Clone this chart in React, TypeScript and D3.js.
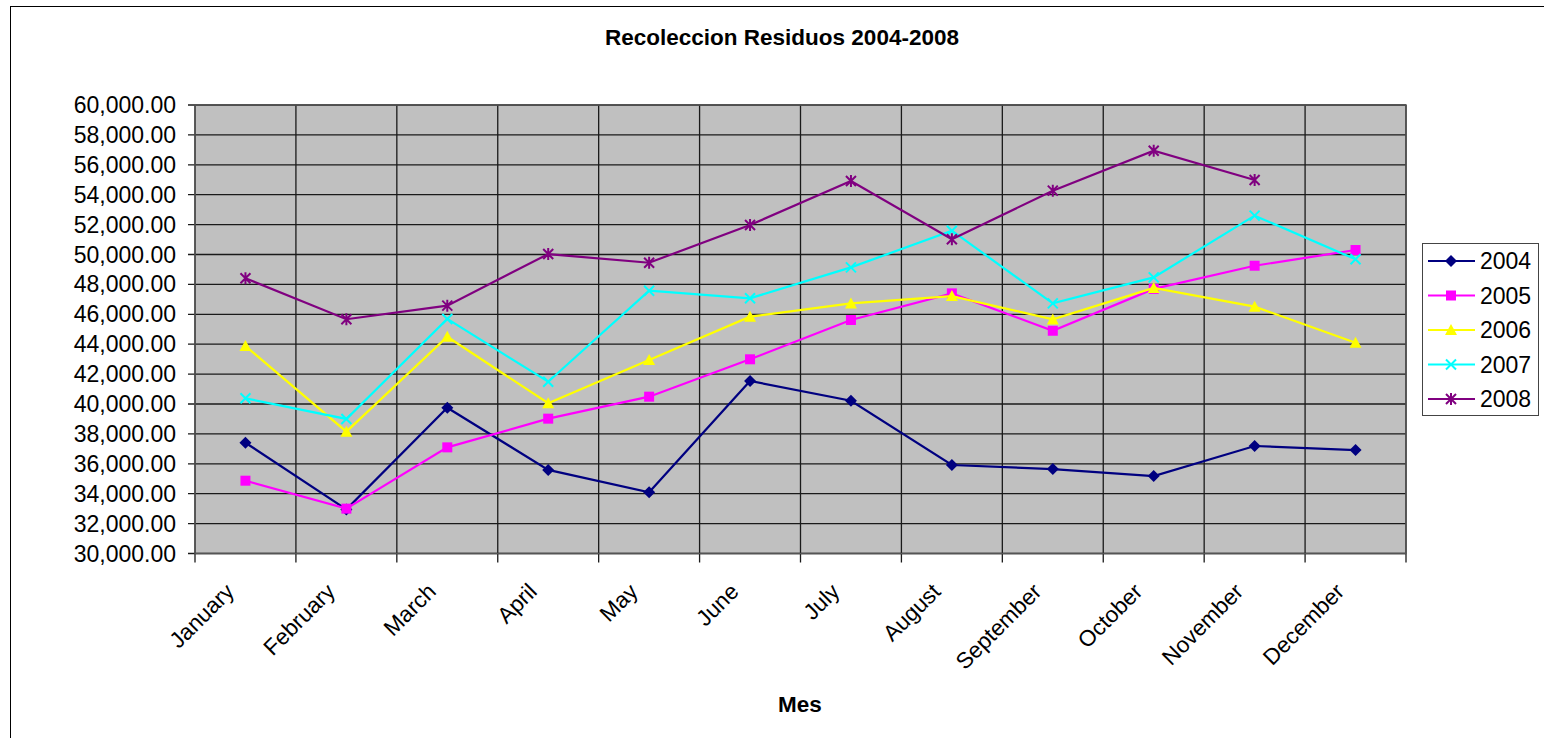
import React from "react";
import * as d3 from "d3";

// chart data
const months = ["January", "February", "March", "April", "May", "June", "July", "August", "September", "October", "November", "December"];
const years = ["2004", "2005", "2006", "2007", "2008"];

const s2004 = [37410, 32950, 39750, 35590, 34090, 41540, 40220, 35920, 35650, 35180, 37190, 36920];
const s2005 = [34870, 33000, 37100, 39020, 40490, 42990, 45620, 47400, 44900, 47700, 49250, 50300];
const s2006 = [43880, 38150, 44500, 40050, 42940, 45840, 46730, 47220, 45660, 47760, 46510, 44100];
const s2007 = [40380, 39000, 45690, 41490, 47580, 47070, 49140, 51590, 46730, 48470, 52600, 49680];
const s2008 = [48410, 45670, 46580, 50030, 49450, 51970, 54920, 51020, 54270, 56940, 54980, null];

const yTicks = d3.range(30000, 60001, 2000);

const colors = ["#000080", "#FF00FF", "#FFFF00", "#00FFFF", "#800080"];
const shapes = ["diamond", "square", "triangle", "x", "star"];

const size = {
  width: 1544,
  height: 738,
  left: 195,
  right: 1406,
  top: 105,
  bottom: 553.5,
  font: "'Liberation Sans', Arial, sans-serif"
};

const series = [s2004, s2005, s2006, s2007, s2008];

const Marker = ({ shape, x, y, color }: { shape: string; x: number; y: number; color: string }) => {
  const r = 5;
  if (shape === "diamond") {
    return <path d={`M${x},${y - r - 1}L${x + r + 1},${y}L${x},${y + r + 1}L${x - r - 1},${y}Z`} fill={color} />;
  }
  if (shape === "square") {
    return <rect x={x - r} y={y - r} width={r * 2} height={r * 2} fill={color} />;
  }
  if (shape === "triangle") {
    return <path d={`M${x},${y - r - 1}L${x + r + 1},${y + r}L${x - r - 1},${y + r}Z`} fill={color} />;
  }
  if (shape === "x") {
    return (
      <path d={`M${x - r},${y - r}L${x + r},${y + r}M${x + r},${y - r}L${x - r},${y + r}`} stroke={color} strokeWidth={2} fill="none" />
    );
  }
  return (
    <path
      d={`M${x - r},${y - r}L${x + r},${y + r}M${x + r},${y - r}L${x - r},${y + r}M${x},${y - r - 1}L${x},${y + r + 1}`}
      stroke={color}
      strokeWidth={2}
      fill="none"
    />
  );
};

const App = () => {
  const x = d3.scaleBand<string>().domain(months).range([size.left, size.right]);
  const y = d3.scaleLinear().domain([30000, 60000]).range([size.bottom, size.top]);
  const fmt = d3.format(",.2f");
  const cx = (m: string) => (x(m) as number) + x.bandwidth() / 2;

  const line = d3
    .line<number | null>()
    .defined((d) => d !== null)
    .x((d, i) => cx(months[i]))
    .y((d) => y(d as number));

  const boundaries = months.map((m) => x(m) as number).concat([size.right]);

  return (
    <svg
      width={size.width}
      height={size.height}
      style={{ position: "absolute", left: 0, top: 0, background: "#fff" }}
      fontFamily={size.font}
    >
      {/* outer chart frame */}
      <rect x={10.5} y={6.5} width={1545} height={745} fill="#fff" stroke="#000" strokeWidth={1} />

      <text x={782} y={45} textAnchor="middle" fontSize={22.5} fontWeight="bold">
        Recoleccion Residuos 2004-2008
      </text>

      {/* plot area */}
      <rect x={size.left} y={size.top} width={size.right - size.left} height={size.bottom - size.top} fill="#C0C0C0" />

      {yTicks.map((t) => (
        <g key={"y" + t}>
          <line x1={size.left - 7} x2={size.right} y1={y(t)} y2={y(t)} stroke="#1a1a1a" strokeWidth={1.3} />
          <text x={176} y={y(t) + 8} textAnchor="end" fontSize={23}>
            {fmt(t)}
          </text>
        </g>
      ))}

      {boundaries.map((b, i) => (
        <line key={"v" + i} x1={b} x2={b} y1={size.top} y2={size.bottom + 9} stroke="#1a1a1a" strokeWidth={1.3} />
      ))}

      <rect
        x={size.left}
        y={size.top}
        width={size.right - size.left}
        height={size.bottom - size.top}
        fill="none"
        stroke="#555"
        strokeWidth={1.5}
      />

      {months.map((m) => (
        <text
          key={m}
          transform={`translate(${cx(m) - 10},${593}) rotate(-45)`}
          textAnchor="end"
          fontSize={22.5}
        >
          {m}
        </text>
      ))}

      <text x={800} y={712} textAnchor="middle" fontSize={22.5} fontWeight="bold">
        Mes
      </text>

      {/* series */}
      {series.map((s, k) => (
        <g key={years[k]}>
          <path d={line(s) || ""} fill="none" stroke={colors[k]} strokeWidth={2.2} />
          {s.map((v, i) =>
            v === null ? null : <Marker key={i} shape={shapes[k]} x={cx(months[i])} y={y(v)} color={colors[k]} />
          )}
        </g>
      ))}

      {/* legend */}
      <rect x={1422.5} y={243.5} width={116} height={172} fill="#fff" stroke="#444" strokeWidth={1} />
      {years.map((yr, k) => {
        const ly = 261 + k * 34.5;
        return (
          <g key={"lg" + yr}>
            <line x1={1428} x2={1475} y1={ly} y2={ly} stroke={colors[k]} strokeWidth={2.2} />
            <Marker shape={shapes[k]} x={1451} y={ly} color={colors[k]} />
            <text x={1480} y={ly + 8} fontSize={23}>
              {yr}
            </text>
          </g>
        );
      })}
    </svg>
  );
};

export default App;
